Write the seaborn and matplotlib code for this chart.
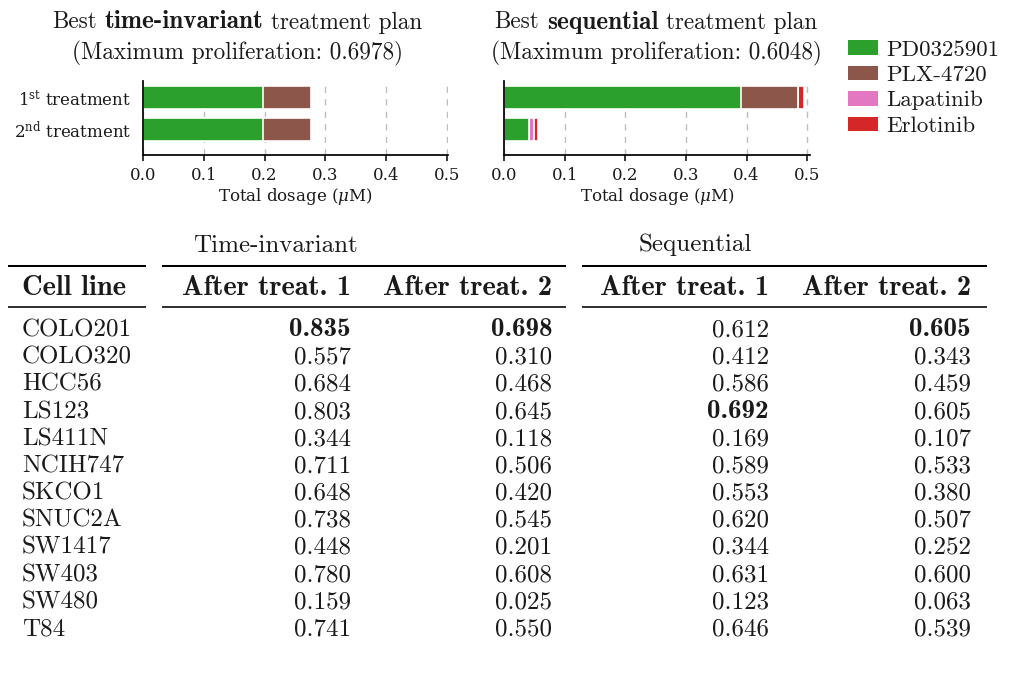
import numpy as np
import pandas as pd
import matplotlib
matplotlib.use("Agg")
import matplotlib.pyplot as plt
from matplotlib.patches import Patch
from matplotlib.font_manager import FontProperties
import seaborn as sns

# ---- treatment plans (dosage in uM per drug, one entry per treatment step) ----
drugs = ["PD0325901", "PLX-4720", "Lapatinib", "Erlotinib"]
drug_colors = ["#2ca02c", "#8c564b", "#e377c2", "#d62728"]
treatments = ["1$^{\\mathrm{st}}$ treatment", "2$^{\\mathrm{nd}}$ treatment"]

ti_pd0325901 = [0.198, 0.198]
ti_plx4720 = [0.078, 0.078]
ti_lapatinib = [0.0, 0.0]
ti_erlotinib = [0.0, 0.0]

seq_pd0325901 = [0.390, 0.042]
seq_plx4720 = [0.095, 0.0]
seq_lapatinib = [0.0, 0.007]
seq_erlotinib = [0.009, 0.007]

ti_max_prolif = 0.6978
seq_max_prolif = 0.6048

# ---- proliferation per cell line ----
cell_lines = ["COLO201", "COLO320", "HCC56", "LS123", "LS411N", "NCIH747",
              "SKCO1", "SNUC2A", "SW1417", "SW403", "SW480", "T84"]
ti_after1 = [0.835, 0.557, 0.684, 0.803, 0.344, 0.711, 0.648, 0.738, 0.448, 0.780, 0.159, 0.741]
ti_after2 = [0.698, 0.310, 0.468, 0.645, 0.118, 0.506, 0.420, 0.545, 0.201, 0.608, 0.025, 0.550]
seq_after1 = [0.612, 0.412, 0.586, 0.692, 0.169, 0.589, 0.553, 0.620, 0.344, 0.631, 0.123, 0.646]
seq_after2 = [0.605, 0.343, 0.459, 0.605, 0.107, 0.533, 0.380, 0.507, 0.252, 0.600, 0.063, 0.539]

sns.set_theme(style="white")
plt.rcParams["font.family"] = ["DejaVu Serif"]
plt.rcParams["mathtext.fontset"] = "dejavuserif"
plt.rcParams["axes.unicode_minus"] = False

CM = FontProperties(family="cmr10")
CMB = FontProperties(family="cmb10")
INK = "#1a1a1a"

W, H = 1013, 677
fig = plt.figure(figsize=(W / 100, H / 100), dpi=100)

# overlay axes in pixel units for the titles and the table
tax = fig.add_axes([0, 0, 1, 1])
tax.set_xlim(0, W)
tax.set_ylim(H, 0)
tax.axis("off")

renderer = fig.canvas.get_renderer()


def rich_line(xc, y, parts, size, bold_size):
    """Draw a line made of (text, bold) parts, centred at xc."""
    texts = []
    for s, bold in parts:
        t = tax.text(0, y, s, fontproperties=CMB if bold else CM,
                     fontsize=bold_size if bold else size,
                     ha="left", va="baseline", color=INK)
        texts.append(t)
    widths = [t.get_window_extent(renderer).width for t in texts]
    gap = 0.3333 * size * 100 / 72
    total = sum(widths) + gap * (len(texts) - 1)
    x = xc - total / 2
    for t, w in zip(texts, widths):
        t.set_x(x)
        x += w + gap


def stacked(ax, doses, xmax):
    cum = np.cumsum(np.array(doses), axis=0)
    for i in reversed(range(len(drugs))):
        df = pd.DataFrame({"treatment": treatments, "dose": cum[i]})
        sns.barplot(data=df, x="dose", y="treatment", orient="h",
                    color=drug_colors[i], saturation=1, width=0.72,
                    edgecolor="white", linewidth=1.2, errorbar=None, ax=ax)
    ax.set_xlim(0, xmax)
    ax.set_ylim(1.8, -0.5)
    ax.set_xticks([0.0, 0.1, 0.2, 0.3, 0.4, 0.5])
    ax.set_xticklabels(["0.0", "0.1", "0.2", "0.3", "0.4", "0.5"])
    ax.set_axisbelow(True)
    ax.grid(axis="x", linestyle=(0, (4.5, 4.5)), color="#bdbdbd", linewidth=1.0)
    ax.grid(axis="y", visible=False)
    for side in ["top", "right"]:
        ax.spines[side].set_visible(False)
    for side in ["left", "bottom"]:
        ax.spines[side].set_color("black")
        ax.spines[side].set_linewidth(1.25)
    ax.tick_params(axis="x", bottom=True, length=4.5, width=1.1, color="black",
                   pad=3.8, labelsize=12, labelcolor=INK)
    ax.tick_params(axis="y", left=False, length=0, pad=8.5, labelsize=12,
                   labelcolor=INK)
    ax.set_ylabel("")
    ax.set_xlabel("Total dosage ($\\mu$M)", fontsize=12, labelpad=2, color=INK)


ax1 = fig.add_axes([143 / W, 1 - 155 / H, 305 / W, 74 / H])
stacked(ax1, [ti_pd0325901, ti_plx4720, ti_lapatinib, ti_erlotinib], 0.5016)

ax2 = fig.add_axes([504 / W, 1 - 155 / H, 306 / W, 74 / H])
stacked(ax2, [seq_pd0325901, seq_plx4720, seq_lapatinib, seq_erlotinib], 0.5045)
ax2.set_yticklabels([])

# titles
TT, TTB = 16.7, 18.2
rich_line(237, 28.5, [("Best", False), ("time-invariant", True), ("treatment plan", False)], TT, TTB)
rich_line(237, 59, [(f"(Maximum proliferation: {ti_max_prolif:.4f})", False)], TT, TTB)
rich_line(656, 28.5, [("Best", False), ("sequential", True), ("treatment plan", False)], TT, TTB)
rich_line(656, 59, [(f"(Maximum proliferation: {seq_max_prolif:.4f})", False)], TT, TTB)

# legend
handles = [Patch(facecolor=c, edgecolor="none") for c in drug_colors]
fig.legend(handles, drugs, loc="upper left", bbox_to_anchor=(848 / W, 1 - 40 / H),
           frameon=False, prop=FontProperties(family="cmr10", size=16.5),
           handlelength=1.3, handleheight=0.61, handletextpad=0.35,
           labelspacing=0.26, borderpad=0, borderaxespad=0, labelcolor=INK)

# ---- table ----
TS, TSB_HEAD, TSB_VAL = 18, 20.5, 19.5
rule_top, rule_mid = 265.5, 307
groups = [(8, 146), (162, 566), (582, 987)]
for x0, x1 in groups:
    tax.plot([x0, x1], [rule_top, rule_top], color="black", lw=1.45, solid_capstyle="butt")
    tax.plot([x0, x1], [rule_mid, rule_mid], color="black", lw=1.15, solid_capstyle="butt")

tax.text(275, 251.5, "Time-invariant", fontproperties=CM, fontsize=TS,
         ha="center", va="baseline", color=INK)
tax.text(695, 251.5, "Sequential", fontproperties=CM, fontsize=TS,
         ha="center", va="baseline", color=INK)

col_right = [351, 552, 769, 971]
col_headers = ["After treat. 1", "After treat. 2", "After treat. 1", "After treat. 2"]
header_y = 295
tax.text(22, header_y, "Cell line", fontproperties=CMB, fontsize=TSB_HEAD,
         ha="left", va="baseline", color=INK)
for xr, label in zip(col_right, col_headers):
    tax.text(xr, header_y, label, fontproperties=CMB, fontsize=TSB_HEAD,
             ha="right", va="baseline", color=INK)

columns = [ti_after1, ti_after2, seq_after1, seq_after2]
best = [int(np.argmax(c)) for c in columns]
row0, row_step = 336.5, 27.18
for i, name in enumerate(cell_lines):
    y = row0 + i * row_step
    tax.text(22, y, name, fontproperties=CM, fontsize=TS, ha="left",
             va="baseline", color=INK)
    for j, col in enumerate(columns):
        bold = best[j] == i
        tax.text(col_right[j], y, f"{col[i]:.3f}",
                 fontproperties=CMB if bold else CM,
                 fontsize=TSB_VAL if bold else TS,
                 ha="right", va="baseline", color=INK)

fig.savefig("out.png", dpi=100)
